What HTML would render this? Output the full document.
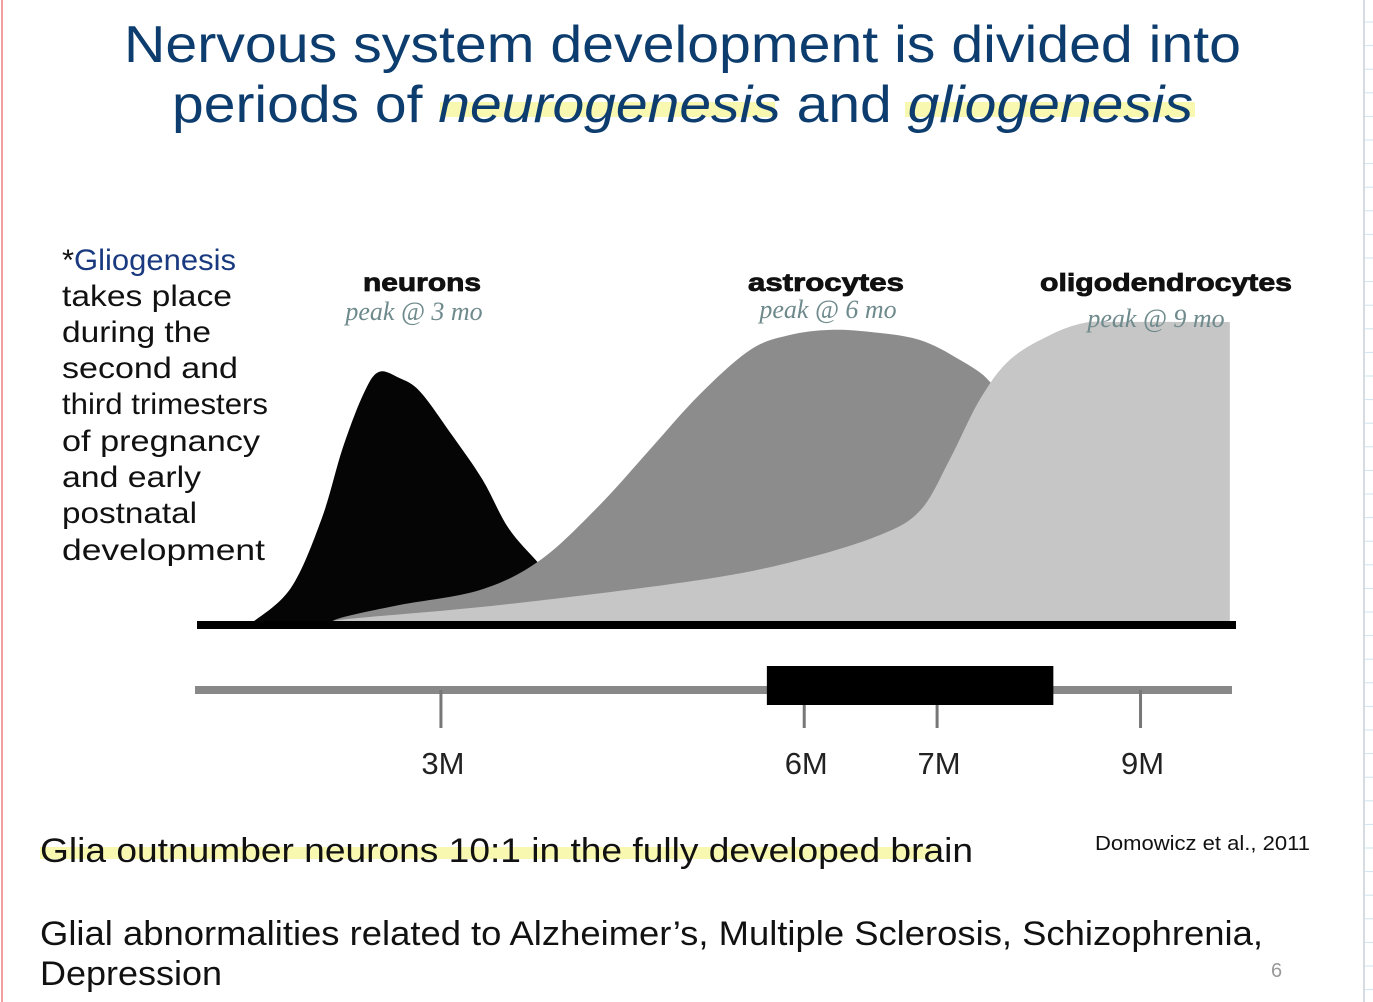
<!DOCTYPE html>
<html><head><meta charset="utf-8"><style>
html,body{margin:0;padding:0;background:#fff;}
svg{display:block;font-family:"Liberation Sans",sans-serif;}
</style></head><body>
<svg id="s" width="1373" height="1002" viewBox="0 0 1373 1002">
<rect x="0" y="0" width="1373" height="1002" fill="#fff"/>
<line x1="2" y1="0" x2="2" y2="1002" stroke="#f0a0a0" stroke-width="2"/>
<line x1="1364" y1="0" x2="1364" y2="1002" stroke="#c8d0d8" stroke-width="1.5"/>
<g id="grid"></g>
<rect x="440" y="102" width="335" height="15" fill="#f9f8b0"/>
<rect x="905" y="102" width="290" height="15" fill="#f9f8b0"/>
<rect x="40" y="847" width="900" height="12" fill="#f9f8b0"/>
<g fill="#0d3d6e" font-size="52">
<text x="124" y="62" textLength="1117" lengthAdjust="spacingAndGlyphs">Nervous system development is divided into</text>
<text x="172" y="122" textLength="1021" lengthAdjust="spacingAndGlyphs">periods of <tspan font-style="italic">neurogenesis</tspan> and <tspan font-style="italic">gliogenesis</tspan></text>
</g>
<g font-size="30" fill="#111">
<text x="62" y="270" textLength="174" lengthAdjust="spacingAndGlyphs">*<tspan fill="#1a3a80">Gliogenesis</tspan></text>
<text x="62" y="306" textLength="170" lengthAdjust="spacingAndGlyphs">takes place</text>
<text x="62" y="342" textLength="149" lengthAdjust="spacingAndGlyphs">during the</text>
<text x="62" y="378" textLength="176" lengthAdjust="spacingAndGlyphs">second and</text>
<text x="62" y="414" textLength="206" lengthAdjust="spacingAndGlyphs">third trimesters</text>
<text x="62" y="451" textLength="198" lengthAdjust="spacingAndGlyphs">of pregnancy</text>
<text x="62" y="487" textLength="139" lengthAdjust="spacingAndGlyphs">and early</text>
<text x="62" y="523" textLength="135" lengthAdjust="spacingAndGlyphs">postnatal</text>
<text x="62" y="560" textLength="203" lengthAdjust="spacingAndGlyphs">development</text>
</g>
<g id="chart"></g>
<g font-size="25" font-weight="bold" fill="#111" text-anchor="middle" stroke="#111" stroke-width="0.8">
<text x="422" y="291" textLength="118" lengthAdjust="spacingAndGlyphs">neurons</text>
<text x="826" y="291" textLength="156" lengthAdjust="spacingAndGlyphs">astrocytes</text>
<text x="1166" y="291" textLength="252" lengthAdjust="spacingAndGlyphs">oligodendrocytes</text>
</g>
<g font-size="26" font-style="italic" font-family="'Liberation Serif',serif" fill="#6f8a8c" text-anchor="middle">
<text x="414" y="320">peak @ 3 mo</text>
<text x="828" y="318">peak @ 6 mo</text>
<text x="1156" y="327">peak @ 9 mo</text>
</g>
<g font-size="34" fill="#111">
<text x="40" y="862" textLength="933" lengthAdjust="spacingAndGlyphs">Glia outnumber neurons 10:1 in the fully developed brain</text>
<text x="40" y="945" textLength="1223" lengthAdjust="spacingAndGlyphs">Glial abnormalities related to Alzheimer’s, Multiple Sclerosis, Schizophrenia,</text>
<text x="40" y="985" textLength="182" lengthAdjust="spacingAndGlyphs">Depression</text>
</g>
<text x="1095" y="850" font-size="20" fill="#111" textLength="215" lengthAdjust="spacingAndGlyphs">Domowicz et al., 2011</text>
<text x="1271" y="977" font-size="20" fill="#999">6</text>
</svg>
<script>
const neuronX=[5,9,12,14,16,17.5,19.5,21.5,24.5,27.5,30,33,36,38];
const neuronV=[0,12,35,58,76,83.5,81.5,77,63,48,32,20,8,0];
const astroX=[12.8,13.8,19.5,27.3,33.1,38.8,43.6,48.4,53.3,57.1,61,64.9,69.6,73.5,76.4,78.3,80.2,82.2];
const astroV=[0,2.3,6.6,11.6,21.5,39.6,57.8,76,90.8,95.7,97.4,96.7,94.1,87.5,80.2,67.7,34.7,0];
const oligoX=[12.8,13.8,29.2,48.5,58.1,65.8,69.7,72.5,75.4,78.3,82.2,85.5,88.9,99.5];
const oligoV=[0,1.7,6.6,14.9,21.5,29.7,37.9,54.5,74.3,87.5,95.7,99.7,100,100];
const tickLabels=["3M","6M","7M","9M"];
const tickPos=[23.5,58.5,71.3,90.9];
const rangeStart=54.9, rangeEnd=82.5;

const NS="http://www.w3.org/2000/svg";
const X0=197,X1=1235,Y0=625,YT=322;
const xs=v=>X0+v*(X1-X0)/100;
const ys=v=>Y0-v*(Y0-YT)/100;
function mk(t,a,p){const e=document.createElementNS(NS,t);for(const k in a)e.setAttribute(k,a[k]);p.appendChild(e);return e;}
function areaPath(X,V){
  const P=X.map((x,i)=>[xs(x),ys(V[i])]);
  let d=`M${P[0][0]},${Y0} L${P[0][0]},${P[0][1]}`;
  for(let i=0;i<P.length-1;i++){
    const p0=P[Math.max(0,i-1)],p1=P[i],p2=P[i+1],p3=P[Math.min(P.length-1,i+2)];
    const c1=[p1[0]+(p2[0]-p0[0])/6,p1[1]+(p2[1]-p0[1])/6];
    const c2=[p2[0]-(p3[0]-p1[0])/6,p2[1]-(p3[1]-p1[1])/6];
    d+=` C${c1[0]},${c1[1]} ${c2[0]},${c2[1]} ${p2[0]},${p2[1]}`;
  }
  d+=` L${P[P.length-1][0]},${Y0} Z`;return d;
}
const g=document.getElementById('chart');
const pn=mk('path',{d:areaPath(neuronX,neuronV),fill:'#050505'},g);


const pa=mk('path',{d:areaPath(astroX,astroV),fill:'#8c8c8c'},g);


const po=mk('path',{d:areaPath(oligoX,oligoV),fill:'#c6c6c6'},g);


const base=mk('rect',{x:197,y:621,width:1039,height:8,fill:'#000'},g);


const tl=mk('rect',{x:195,y:686,width:1037,height:8,fill:'#888'},g);


tickPos.forEach((t,i)=>{
  const l=mk('rect',{x:xs(t)-1.5,y:690,width:3,height:38,fill:'#777'},g);
  
  
  const tx=mk('text',{x:xs(t)+2,y:774,'font-size':31,fill:'#222','text-anchor':'middle'},g);
  tx.textContent=tickLabels[i];
  
  
});
const box=mk('rect',{x:xs(rangeStart),y:666,width:xs(rangeEnd)-xs(rangeStart),height:39,fill:'#000'},g);


const gr=document.getElementById('grid');
for(let y=22;y<1002;y+=23.6){mk('line',{x1:1365,y1:y,x2:1373,y2:y,stroke:'#cfe3f0','stroke-width':1},gr);}
</script>
</body></html>
